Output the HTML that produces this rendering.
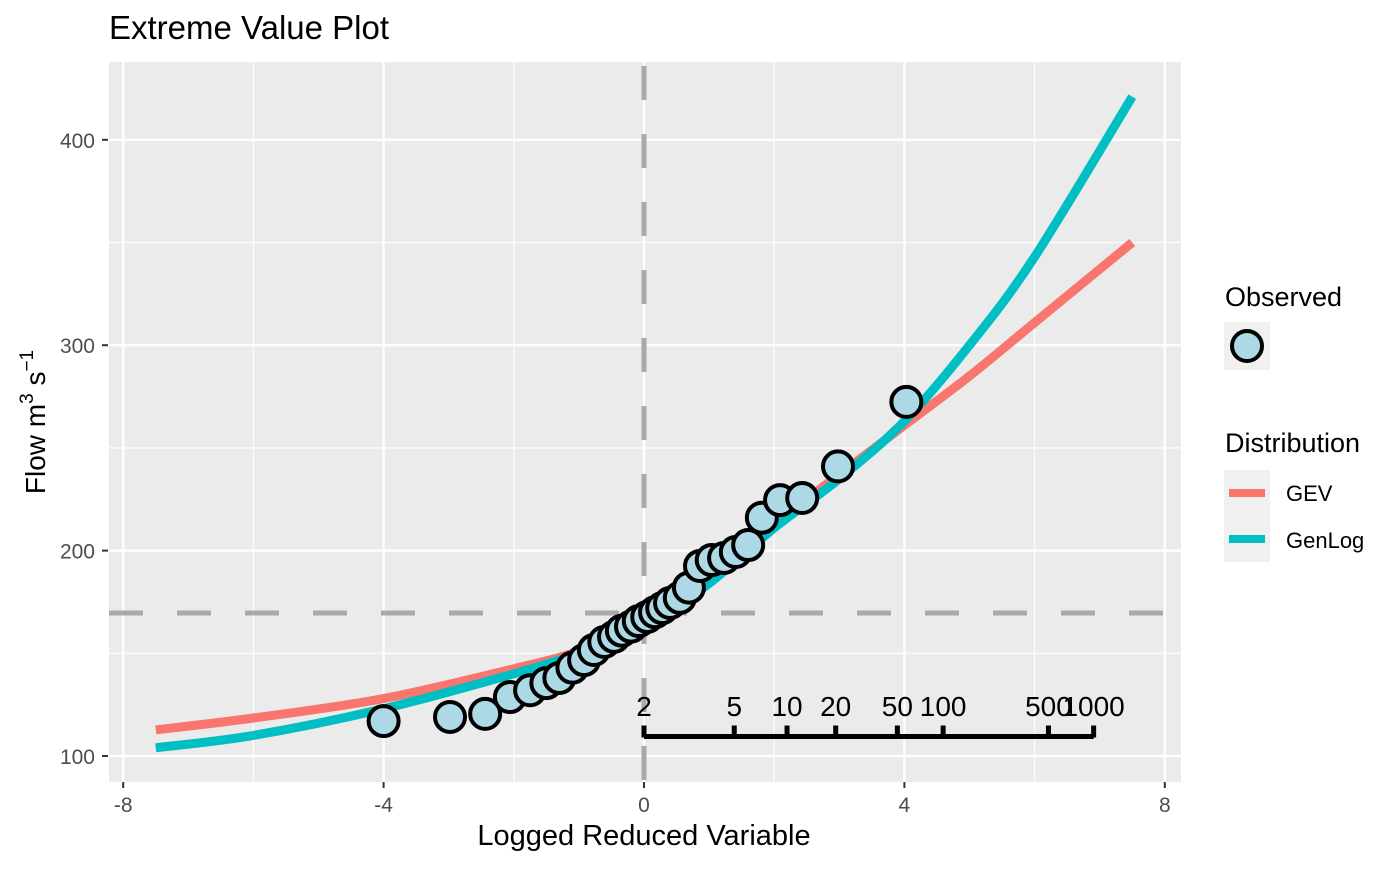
<!DOCTYPE html>
<html><head><meta charset="utf-8"><style>
body{margin:0;background:#fff;}
svg text{font-family:"Liberation Sans",Arial,sans-serif;}
</style></head><body>
<svg id="c" width="1400" height="866" xmlns="http://www.w3.org/2000/svg">
<rect x="109" y="62" width="1072" height="720" fill="#ebebeb"/>
<g id="grid"></g>
<g id="marks"></g>
<text x="109" y="39" font-size="33" fill="#000">Extreme Value Plot</text>
<text x="644" y="845" font-size="29" text-anchor="middle">Logged Reduced Variable</text>
<text transform="translate(45,422) rotate(-90)" font-size="28" text-anchor="middle">Flow m<tspan dy="-12" font-size="19">3</tspan><tspan dy="12"> s</tspan><tspan dy="-12" font-size="19">−1</tspan></text>
<g>
<text x="1225" y="306" font-size="27">Observed</text>
<rect x="1224" y="322" width="46" height="48" fill="#f0f0f0"/>
<circle cx="1247" cy="346" r="15" fill="#add8e6" stroke="#000" stroke-width="4"/>
<text x="1225" y="452" font-size="27">Distribution</text>
<rect x="1224" y="470" width="46" height="92" fill="#f0f0f0"/>
<line x1="1229" x2="1265" y1="493" y2="493" stroke="#f8766d" stroke-width="8"/>
<line x1="1229" x2="1265" y1="539" y2="539" stroke="#00bfc4" stroke-width="8"/>
<text x="1286" y="501" font-size="22">GEV</text>
<text x="1286" y="548" font-size="22">GenLog</text>
</g>
</svg>
<script>
const xTicks=[-8,-4,0,4,8];
const xMinor=[-6,-2,2,6];
const yTicks=[100,200,300,400];
const yMinor=[150,250,350];
const curveX=[-7.5,-6,-4,-2,-1,0,1,2,3,4,5,6,7.5];
const gevY=[112.7,118.5,128,142.5,151,164,186,213,237,261,285,311,350];
const genlogY=[104,110,123,140,150,162,184,211,235,263,300,343,421];
const obsX=[-4,-2.98,-2.44,-2.06,-1.75,-1.5,-1.3,-1.1,-0.92,-0.77,-0.61,-0.46,-0.34,-0.2,-0.08,0.05,0.17,0.28,0.4,0.55,0.69,0.86,1.04,1.23,1.41,1.6,1.81,2.09,2.43,2.98,4.03];
const obsY=[117,119,120.5,128.7,132,135.5,138,143,146.7,151.6,155.5,158,161,163,165.7,167.7,170,172,174.5,177,182,192.5,195.4,196.4,199.3,202.7,216,224.6,225.6,241,272.4];
const refX=0, refY=169.6;
const returnPeriods=[2,5,10,20,50,100,500,1000];
const returnLabelY=122, returnLineY=109;

const X=v=>644+v*65.1;
const Y=v=>756-(v-100)*2.054;
const NS="http://www.w3.org/2000/svg";
function mk(parent,tag,attrs){const e=document.createElementNS(NS,tag);for(const k in attrs)e.setAttribute(k,attrs[k]);parent.appendChild(e);return e;}
const grid=document.getElementById('grid'),marks=document.getElementById('marks'),svg=document.getElementById('c');
xMinor.forEach(v=>{const l=mk(grid,'line',{x1:X(v),x2:X(v),y1:62,y2:782,stroke:'#fff','stroke-width':1.1});

});
yMinor.forEach(v=>{const l=mk(grid,'line',{x1:109,x2:1181,y1:Y(v),y2:Y(v),stroke:'#fff','stroke-width':1.1});

});
xTicks.forEach(v=>{const l=mk(grid,'line',{x1:X(v),x2:X(v),y1:62,y2:782,stroke:'#fff','stroke-width':2.2});


const t=mk(svg,'line',{x1:X(v),x2:X(v),y1:782,y2:788,stroke:'#333','stroke-width':2});


const tx=mk(svg,'text',{x:X(v),y:812,'font-size':21,fill:'#4d4d4d','text-anchor':'middle'});tx.textContent=v;

});
yTicks.forEach(v=>{const l=mk(grid,'line',{x1:109,x2:1181,y1:Y(v),y2:Y(v),stroke:'#fff','stroke-width':2.2});


const t=mk(svg,'line',{x1:102,x2:108,y1:Y(v),y2:Y(v),stroke:'#333','stroke-width':2});


const tx=mk(svg,'text',{x:95,y:Y(v)+8,'font-size':21,fill:'#4d4d4d','text-anchor':'end'});tx.textContent=v;

});
const vl=mk(marks,'line',{x1:X(refX),x2:X(refX),y1:62,y2:782,stroke:'#a9a9a9','stroke-width':5,'stroke-dasharray':'34 34','stroke-dashoffset':-4});


const hl=mk(marks,'line',{x1:109,x2:1181,y1:Y(refY),y2:Y(refY),stroke:'#a9a9a9','stroke-width':5,'stroke-dasharray':'34 34','stroke-dashoffset':0});


function path(xs,ys){const p=xs.map((x,i)=>[X(x),Y(ys[i])]);let d='M'+p[0][0]+','+p[0][1];
for(let i=0;i<p.length-1;i++){const p0=p[Math.max(0,i-1)],p1=p[i],p2=p[i+1],p3=p[Math.min(p.length-1,i+2)];
d+=` C${p1[0]+(p2[0]-p0[0])/6},${p1[1]+(p2[1]-p0[1])/6} ${p2[0]-(p3[0]-p1[0])/6},${p2[1]-(p3[1]-p1[1])/6} ${p2[0]},${p2[1]}`;}return d;}
const g1=mk(marks,'path',{d:path(curveX,gevY),fill:'none',stroke:'#f8766d','stroke-width':9});


const g2=mk(marks,'path',{d:path(curveX,genlogY),fill:'none',stroke:'#00bfc4','stroke-width':9});


obsX.forEach((x,i)=>{const c=mk(marks,'circle',{cx:X(x),cy:Y(obsY[i]),r:15,fill:'#add8e6',stroke:'#000','stroke-width':4});

});
const rx=returnPeriods.map(T=>Math.log(T-1));
const ra=mk(marks,'line',{x1:X(rx[0]),x2:X(rx[rx.length-1]),y1:Y(returnLineY)-1,y2:Y(returnLineY)-1,stroke:'#000','stroke-width':5});


rx.forEach((x,i)=>{const t=mk(marks,'line',{x1:X(x),x2:X(x),y1:Y(returnLineY)-12,y2:Y(returnLineY),stroke:'#000','stroke-width':5});


const tx=mk(marks,'text',{x:X(x),y:Y(returnLabelY)+5,'font-size':28,'text-anchor':'middle',fill:'#000'});tx.textContent=returnPeriods[i];

});
</script>
</body></html>
